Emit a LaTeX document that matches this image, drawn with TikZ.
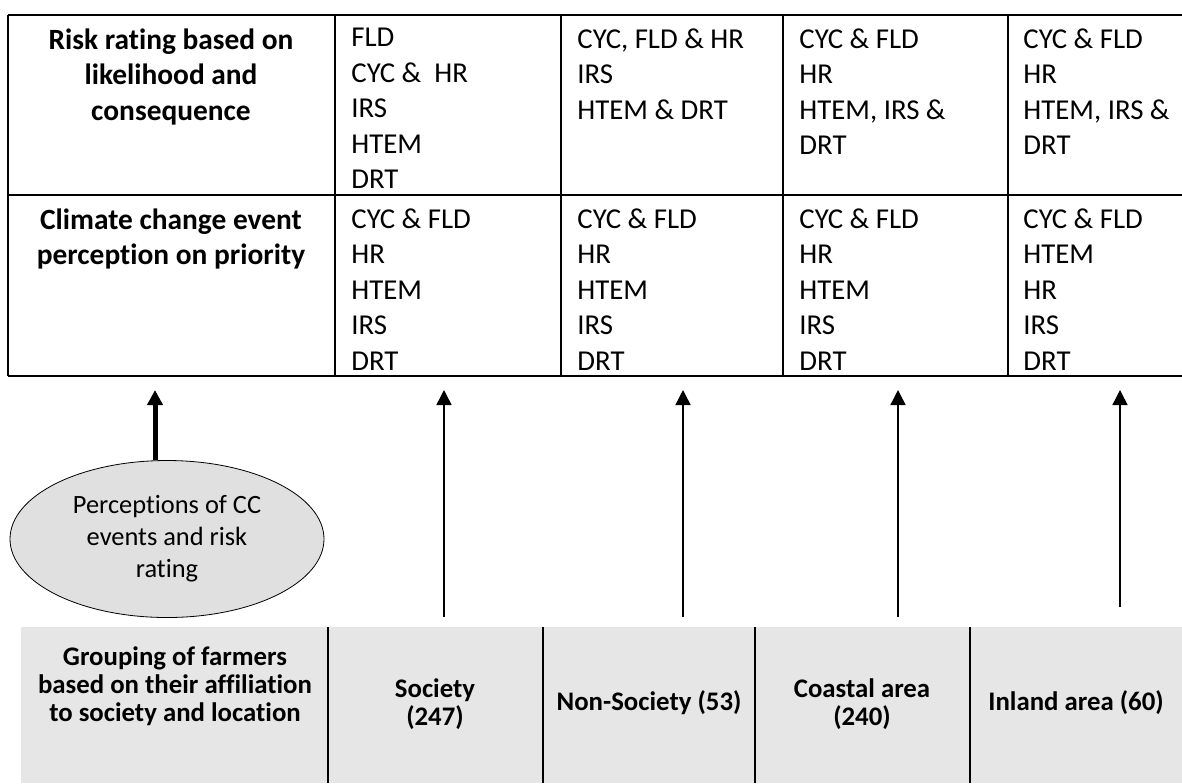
\documentclass[tikz,border=0pt]{standalone}
\usepackage{fontspec}
\setmainfont{Carlito}[Ligatures=NoCommon]
\usepackage{tikz}
\usetikzlibrary{positioning, arrows.meta, shapes.geometric}

\definecolor{cellgray}{HTML}{E6E6E6}
\definecolor{ovalgray}{HTML}{E0E0E0}

\begin{document}
\begin{tikzpicture}[
        x=0.5pt, y=-0.5pt,
        rule/.style={line width=1pt},
        divider/.style={line width=0.9pt},
        head/.style={font=\fontsize{14.7}{17.75}\selectfont\bfseries, align=center, anchor=north, inner sep=0pt},
        item/.style={font=\fontsize{14.4}{17.75}\selectfont, align=left, anchor=north west, inner sep=0pt},
        grp/.style={font=\fontsize{13.4}{14}\selectfont\bfseries, align=center, inner sep=0pt},
        oval/.style={ellipse, draw, thin, fill=ovalgray, minimum width=157pt, minimum height=78.5pt, inner sep=0pt, align=center, font=\fontsize{13.2}{16}\selectfont},
        arr/.style={-{Triangle[length=7.5pt, width=7.5pt]}, line width=0.75pt},
        thickarr/.style={arr, line width=2.5pt}
    ]
    \useasboundingbox (0,0) rectangle (1182,783);

    % Tabla superior: líneas
    \draw[rule] (8,15) -- (1182,15) (8,195) -- (1182,195) (8,376) -- (1182,376);
    \draw[rule] (8,15) -- (8,376) (335,15) -- (335,376) (561,15) -- (561,376);
    \draw[rule] (783,15) -- (783,376) (1008,15) -- (1008,376);

    % Fila 1: valoración del riesgo
    \node[head] (h1) at (171,28) {Risk rating based on\\likelihood and\\consequence};
    \node[item] (r1c1) at (351,28) {FLD\\CYC \& \ HR\\IRS\\HTEM\\DRT};
    \node[item] (r1c2) at (577,28) {CYC, FLD \& HR\\IRS\\HTEM \& DRT};
    \node[item] (r1c3) at (799,28) {CYC \& FLD\\HR\\HTEM, IRS \&\\DRT};
    \node[item] (r1c4) at (1023,28) {CYC \& FLD\\HR\\HTEM, IRS \&\\DRT};

    % Fila 2: percepción por prioridad
    \node[head] (h2) at (171,208) {Climate change event\\perception on priority};
    \node[item] (r2c1) at (351,208) {CYC \& FLD\\HR\\HTEM\\IRS\\DRT};
    \node[item] (r2c2) at (577,208) {CYC \& FLD\\HR\\HTEM\\IRS\\DRT};
    \node[item] (r2c3) at (799,208) {CYC \& FLD\\HR\\HTEM\\IRS\\DRT};
    \node[item] (r2c4) at (1023,208) {CYC \& FLD\\HTEM\\HR\\IRS\\DRT};

    % Elipse
    \node[oval] (perc) at (167,539) {Perceptions of CC\\events and risk\\rating};

    % Tabla inferior: grupos de agricultores
    \fill[cellgray] (21,627) rectangle (1182,783);
    \draw[divider] (328,627) -- (328,783) (543,627) -- (543,783);
    \draw[divider] (755,627) -- (755,783) (970,627) -- (970,783);
    \node[grp] (g0) at (175,686) {Grouping of farmers\\based on their affiliation\\to society and location};
    \node[grp] (g1) at (435,704) {Society\\(247)};
    \node[grp] (g2) at (649,703) {Non-Society (53)};
    \node[grp] (g3) at (862,704) {Coastal area\\(240)};
    \node[grp] (g4) at (1076,703) {Inland area (60)};

    % Flechas
    \coordinate (t0) at (155,390);
    \coordinate (t1) at (444,390);
    \coordinate (t2) at (683,390);
    \coordinate (t3) at (898,390);
    \coordinate (t4) at (1120,390);
    \coordinate (b1) at (444,617);
    \coordinate (b2) at (683,617);
    \coordinate (b3) at (898,617);
    \coordinate (b4) at (1120,607);

    \draw[thickarr] (perc.north -| t0) -- (t0);
    \draw[arr] (b1) -- (t1); \draw[arr] (b2) -- (t2);
    \draw[arr] (b3) -- (t3); \draw[arr] (b4) -- (t4);
\end{tikzpicture}
\end{document}
